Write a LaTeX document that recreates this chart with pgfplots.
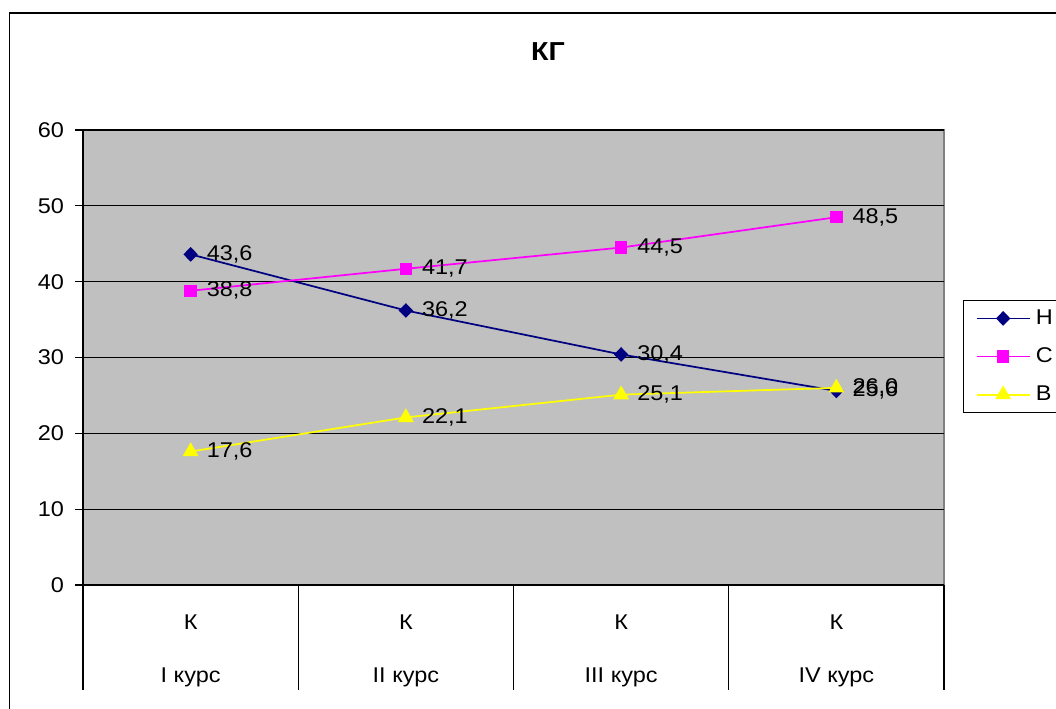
\documentclass[border=0pt]{standalone}
\usepackage{fontspec}
\setmainfont{Liberation Sans}[FakeStretch=1.1]
\usepackage{pgfplots}
\pgfplotsset{compat=1.18}

\definecolor{nser}{HTML}{000080}
\definecolor{sser}{HTML}{FF00FF}
\definecolor{vser}{HTML}{FFFF00}
\definecolor{plotbg}{HTML}{C0C0C0}
\definecolor{plotbd}{HTML}{808080}

\begin{document}
\begin{tikzpicture}[font=\fontsize{16}{18}\selectfont]
% page = 1056 x 708 px, 1px = 0.75pt, origin at lower left of plot area
\useasboundingbox (-62.25pt,-92.25pt) rectangle (729.75pt,438.75pt);
\clip (-62.25pt,-92.25pt) rectangle (729.75pt,438.75pt);
\draw[line width=1.1pt] (-55pt,-120pt) rectangle (780pt,429pt);
\node[font=\fontsize{19.5}{22}\selectfont\bfseries] at (348.75pt,399.75pt) {КГ};

\begin{axis}[
    scale only axis,
    width=645.75pt, height=341.25pt,
    xmin=0, xmax=4, ymin=0, ymax=60,
    axis lines=left,
    axis line style={-, black, line width=0.9pt},
    axis background/.style={fill=plotbg, draw=plotbd, line width=1.2pt},
    ytick={0,10,...,60},
    ymajorgrids,
    grid style={black, line width=0.9pt},
    tick align=outside,
    major tick length=6pt,
    ytick style={black, line width=0.9pt},
    xtick={0.5,1.5,2.5,3.5},
    xtick style={draw=none},
    xticklabels={{К\\[21.75pt]I курс},{К\\[21.75pt]II курс},{К\\[21.75pt]III курс},{К\\[21.75pt]IV курс}},
    xticklabel style={align=center, inner sep=0pt, yshift=-16pt},
    yticklabel style={xshift=-4.75pt},
    /pgf/number format/assume math mode=true,
    clip=false,
    nodes near coords={\pgfmathprintnumber[fixed,fixed zerofill,precision=1,use comma,assume math mode=true]{\pgfplotspointmeta}},
    every node near coord/.append style={anchor=west, inner sep=0pt, xshift=11.5pt, black},
    legend style={at={(1.0221,0.6264)}, anchor=north west, draw=black, line width=1.1pt,
        inner xsep=9pt, inner ysep=3pt, row sep=8pt,
        nodes={inner sep=4pt, line width=0.4pt}},
    legend cell align=left,
    legend image code/.code={\draw[mark repeat=2,mark phase=2,#1] plot coordinates {(0pt,0pt) (19.9pt,0pt) (39.75pt,0pt)};},
]
\addplot[nser, line width=1.3pt, mark=diamond*, mark size=4.6pt, mark options={xscale=1.3, solid}]
    coordinates {(0.5,43.6) (1.5,36.2) (2.5,30.4) (3.5,25.6)};
\addlegendentry{Н}
\addplot[sser, line width=1.3pt, mark=square*, mark size=4pt]
    coordinates {(0.5,38.8) (1.5,41.7) (2.5,44.5) (3.5,48.5)};
\addlegendentry{С}
\addplot[vser, line width=1.3pt, mark=triangle*, mark size=5.6pt]
    coordinates {(0.5,17.6) (1.5,22.1) (2.5,25.1) (3.5,26.0)};
\addlegendentry{В}
\draw[black, line width=0.9pt] (axis cs:0,0) -- ++(0,-78.75pt);
\draw[black, line width=0.9pt] (axis cs:1,0) -- ++(0,-78.75pt);
\draw[black, line width=0.9pt] (axis cs:2,0) -- ++(0,-78.75pt);
\draw[black, line width=0.9pt] (axis cs:3,0) -- ++(0,-78.75pt);
\draw[black, line width=0.9pt] (axis cs:4,0) -- ++(0,-78.75pt);
\end{axis}
\end{tikzpicture}
\end{document}
